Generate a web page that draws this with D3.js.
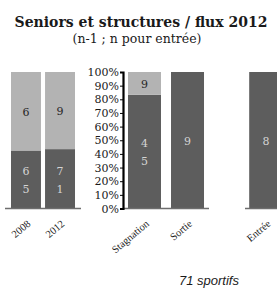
<!DOCTYPE html>
<html>
<head>
<meta charset="utf-8">
<script src="https://cdn.jsdelivr.net/npm/d3@7"></script>
<style>
  body { margin: 0; background: #fff; }
  svg { display: block; }
</style>
</head>
<body>
<div id="chart"></div>
<script>
// left panel : share of each part, with the printed labels
const years = ["2008", "2012"];
const yearsDark = [42.5, 43.5];
const yearsDarkLabels = ["65", "71"];
const yearsLightLabels = ["6", "9"];

// middle panel : flux 2012 (100% stacked)
const flux = ["Stagnation", "Sortie"];
const fluxDark = [45, 9];
const fluxLight = [9, 0];

// right panel
const entree = ["Entrée"];
const entreeDark = [8];

const yTicks = [0, 10, 20, 30, 40, 50, 60, 70, 80, 90, 100];

const width = 277, height = 291;
const darkColor = "#5d5d5d", lightColor = "#b3b3b3";
const serif = "'DejaVu Serif', serif";
const times = "'Liberation Serif', serif";

const svg = d3.select("#chart").append("svg")
  .attr("width", width)
  .attr("height", height);

svg.append("text")
  .attr("x", 141).attr("y", 27)
  .attr("text-anchor", "middle")
  .style("font-family", serif)
  .style("font-weight", "bold")
  .style("font-size", "14px")
  .style("fill", "#1a1a1a")
  .text("Seniors et structures / flux 2012");

svg.append("text")
  .attr("x", 137).attr("y", 43)
  .attr("text-anchor", "middle")
  .style("font-family", serif)
  .style("font-size", "12.5px")
  .style("fill", "#1a1a1a")
  .text("(n-1 ; n pour entrée)");

const y = d3.scaleLinear().domain([0, 100]).range([208.5, 72]);

// stacked label : one digit a line, like the wrapped labels of the source
function stackedLabel(g, cx, cy, str, color) {
  const chars = str.split("");
  const lh = 18;
  chars.forEach((c, i) => {
    g.append("text")
      .attr("x", cx)
      .attr("y", cy + (i - (chars.length - 1) / 2) * lh)
      .attr("dy", "0.35em")
      .attr("text-anchor", "middle")
      .style("font-family", serif)
      .style("font-size", "11px")
      .style("fill", color)
      .text(c);
  });
}

function panel({ cats, dark, light, darkLabels, lightLabels, range, padIn, padOut }) {
  const x = d3.scaleBand().domain(cats).range(range)
    .paddingInner(padIn).paddingOuter(padOut);
  const g = svg.append("g");

  cats.forEach((c, i) => {
    const total = dark[i] + light[i];
    const d = dark[i] / total * 100;
    g.append("rect")
      .attr("x", x(c)).attr("width", x.bandwidth())
      .attr("y", y(d)).attr("height", y(0) - y(d))
      .attr("fill", darkColor);
    if (light[i] > 0) {
      g.append("rect")
        .attr("x", x(c)).attr("width", x.bandwidth())
        .attr("y", y(100)).attr("height", y(d) - y(100))
        .attr("fill", lightColor);
    }
    const cx = x(c) + x.bandwidth() / 2;
    stackedLabel(g, cx, (y(0) + y(d)) / 2 + 1, darkLabels[i], "#d4d4d4");
    if (light[i] > 0) {
      stackedLabel(g, cx, (y(d) + y(100)) / 2 + 1, lightLabels[i], "#262626");
    }
  });

  // baseline
  g.append("line")
    .attr("x1", range[0]).attr("x2", range[1])
    .attr("y1", y(0)).attr("y2", y(0))
    .attr("stroke", "#6e6e6e")
    .attr("stroke-width", 1.5);

  // rotated category labels
  cats.forEach((c) => {
    const cx = x(c) + x.bandwidth() / 2 + 3;
    g.append("text")
      .attr("transform", `translate(${cx}, 222) rotate(-40)`)
      .attr("text-anchor", "end")
      .attr("dy", "0.35em")
      .style("font-family", times)
      .style("font-size", "10.5px")
      .style("fill", "#1a1a1a")
      .text(c);
  });
  return x;
}

panel({
  cats: years,
  dark: yearsDark,
  light: yearsDark.map((v) => 100 - v),
  darkLabels: yearsDarkLabels,
  lightLabels: yearsLightLabels,
  range: [5, 81], padIn: 0.12, padOut: 0.176,
});

panel({
  cats: flux,
  dark: fluxDark,
  light: fluxLight,
  darkLabels: fluxDark.map(String),
  lightLabels: fluxLight.map(String),
  range: [123, 209], padIn: 0.233, padOut: 0.116,
});

panel({
  cats: entree,
  dark: entreeDark,
  light: [0],
  darkLabels: entreeDark.map(String),
  lightLabels: [""],
  range: [245, 287], padIn: 0.2, padOut: 0.1,
});

// percent axis of the middle panel
const axis = svg.append("g")
  .attr("transform", "translate(123,0)")
  .call(d3.axisLeft(y).tickValues(yTicks).tickSize(3).tickPadding(1)
    .tickFormat((d) => d + "%"));
axis.select(".domain").attr("stroke", "#000").attr("stroke-width", 2.2);
axis.selectAll(".tick line").attr("stroke", "#000");
axis.selectAll(".tick text")
  .style("font-family", serif)
  .style("font-size", "11px")
  .style("fill", "#1a1a1a");

svg.append("text")
  .attr("x", 209).attr("y", 285)
  .attr("text-anchor", "middle")
  .style("font-family", "'Liberation Sans', Arial, sans-serif")
  .style("font-style", "italic")
  .style("font-size", "13px")
  .style("fill", "#1a1a1a")
  .text("71 sportifs");
</script>
</body>
</html>
